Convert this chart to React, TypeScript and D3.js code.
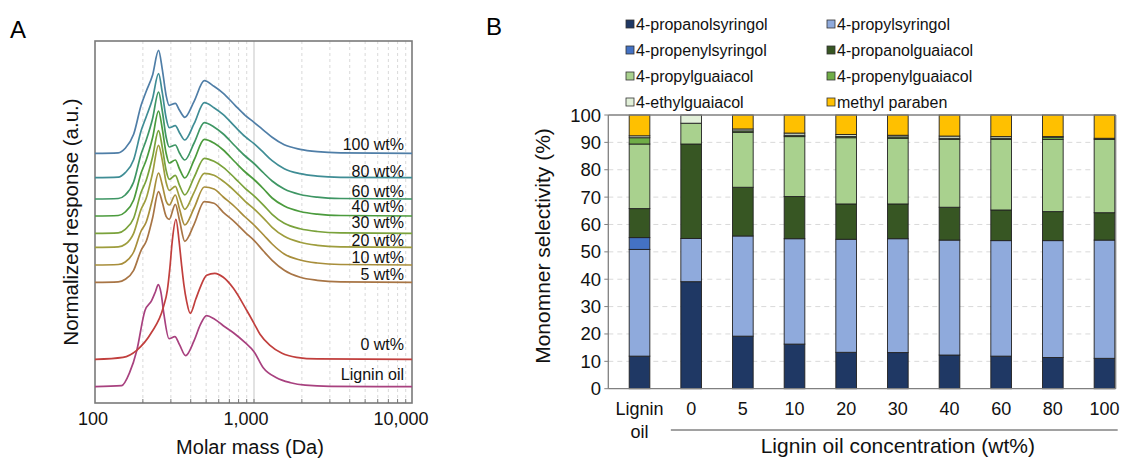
import React from 'react';
import * as d3 from 'd3';

const W = 1122;
const H = 459;
const FONT = '"Liberation Sans", Arial, Helvetica, sans-serif';

// ---------- Panel A: molar mass distributions ----------
const traceNames = ['Lignin oil', '0 wt%', '5 wt%', '10 wt%', '20 wt%', '30 wt%', '40 wt%', '60 wt%', '80 wt%', '100 wt%'];
const traceColors = ['#a8417f', '#c13f3d', '#a87545', '#a88e3b', '#9e9d3d', '#7aa23b', '#4b9b3d', '#3e9664', '#3f8d95', '#4f7ea7'];
// vertical offset of each trace (a.u., stacked display)
const traceOffsets = [16.3, 43.7, 120.7, 138, 155.7, 169.7, 187, 204, 225.3, 249.7];
const labelLift = [7, 9, 2.5, 2, 1.5, 5, 4.5, 2.5, 0.5, 3.5];

const ligninMass = [100, 147, 165, 183, 206, 227, 240, 250, 260, 271, 292, 318, 340, 372, 420, 460, 503, 560, 641, 742, 880, 1000, 1143, 1385, 1700, 2100, 3000, 10000];
const ligninResp = [0, 1, 14, 36, 76, 86, 95, 102, 94, 73, 48, 50, 42, 31, 46, 62, 71, 68, 61, 54, 44, 35, 19, 9, 4, 1.5, 0.3, 0];

const wt0Mass = [100, 150, 183, 227, 269, 285, 296, 306, 323, 338, 350, 362, 377, 397, 430, 459, 504, 567, 641, 742, 899, 1000, 1091, 1261, 1500, 1850, 2500, 10000];
const wt0Resp = [0, 2, 9, 27, 52, 69, 92, 118, 140, 118, 95, 75, 58, 46, 60, 72, 84, 86, 82, 71, 49, 36, 25, 14, 6, 2, 0.4, 0];

const blendMass = [100, 140, 155, 175, 195, 210, 230, 251, 265, 280, 293, 320, 340, 367, 420, 487, 560, 641, 760, 880, 1000, 1150, 1300, 1550, 1950, 2500, 3500, 10000];
const wt5 = [0, 0.5, 3, 12, 32, 41, 64, 90.6, 80, 66, 63, 78, 62, 41, 58, 80.6, 79, 70, 60, 50, 42, 31, 22, 12, 5, 2, 0.5, 0];
const wt10 = [0, 0.5, 3, 13, 34, 43, 66, 92, 80, 64, 60, 70, 56, 40, 57, 78, 76, 68, 58, 48, 40, 30, 21, 11, 5, 2, 0.5, 0];
const wt20 = [0, 0.5, 3, 14, 38, 49, 74, 102, 87, 65, 57, 61, 50, 38, 55, 74, 72, 66, 56, 46, 38.5, 29, 20, 11, 5, 2, 0.5, 0];
const wt30 = [0, 0.5, 4, 15, 41, 53, 76, 102.6, 86, 63, 54, 58, 48, 38.5, 56, 75, 72, 66, 55, 45, 37.5, 28, 19, 10, 4.5, 1.8, 0.5, 0];
const wt40 = [0, 0.5, 4, 16, 43, 56, 78, 105, 87, 63, 53, 56, 47, 38, 56, 76.7, 73, 66, 54, 44, 36.5, 27, 18, 10, 4.5, 1.8, 0.5, 0];
const wt60 = [0, 0.5, 4, 17, 45, 59, 80, 107, 88, 62, 52, 54, 46, 39, 56, 76.3, 72, 65, 53, 43, 35.5, 26, 18, 10, 4.5, 1.8, 0.5, 0];
const wt80 = [0, 0.5, 5, 18, 47, 61, 79, 104, 85, 60, 50, 52, 45, 37.7, 54, 75, 70, 63, 51, 41, 34, 25, 17, 9, 4, 1.6, 0.4, 0];
const wt100 = [0, 0.5, 5, 19, 48, 62, 78, 103, 84, 58, 48, 50, 43, 36, 52, 72.6, 67, 60, 48, 38, 31, 23, 16, 8.5, 4, 1.6, 0.4, 0];

const massTicks = [100, 1000, 10000];
const massTickLabels = ['100', '1,000', '10,000'];
const massTickShift = [-2, -8, -12];
const minorMass = [200, 300, 400, 500, 600, 700, 800, 900, 2000, 3000, 4000, 5000, 6000, 7000, 8000, 9000];

// ---------- Panel B: monomer selectivity ----------
const categories = ['Lignin oil', '0', '5', '10', '20', '30', '40', '60', '80', '100'];
const seriesNames = ['4-propanolsyringol', '4-propylsyringol', '4-propenylsyringol', '4-propanolguaiacol', '4-propylguaiacol', '4-propenylguaiacol', '4-ethylguaiacol', 'methyl paraben'];
const seriesColors = ['#1f3864', '#8faadc', '#4472c4', '#375623', '#a9d18e', '#70ad47', '#e2f0d9', '#ffc000'];
const propanolsyringol = [11.9, 39.1, 19.2, 16.3, 13.3, 13.2, 12.3, 11.9, 11.4, 11.1];
const propylsyringol = [39.0, 15.8, 36.6, 38.5, 41.3, 41.6, 42.0, 42.2, 42.7, 43.2];
const propenylsyringol = [4.3, 0, 0, 0, 0, 0, 0, 0, 0, 0];
const propanolguaiacol = [10.6, 34.5, 17.8, 15.4, 12.9, 12.7, 12.0, 11.2, 10.6, 10.0];
const propylguaiacol = [23.6, 7.6, 20.1, 21.9, 24.2, 24.0, 24.8, 25.8, 26.4, 26.8];
const propenylguaiacol = [2.3, 0, 0.5, 0.5, 0.5, 0.5, 0.4, 0.4, 0.8, 0.4];
const ethylguaiacol = [0.7, 3.0, 0.7, 0.8, 0.7, 0.6, 0.8, 0.6, 0.2, 0];
const methylParaben = [7.6, 0, 5.1, 6.6, 7.1, 7.4, 7.7, 7.9, 7.9, 8.5];
const selTicks = [0, 10, 20, 30, 40, 50, 60, 70, 80, 90, 100];

const App = () => {
  // scales A
  const xA = d3.scaleLog().domain([100, 10000]).range([95, 413]);
  const yA = d3.scaleLinear().domain([0, 362]).range([403, 41]);
  const plotA = { x0: 95, y0: 41, x1: 412, y1: 403 };

  const traces: [number, number][][] = [
    ligninMass.map((m, i) => [m, ligninResp[i]]),
    wt0Mass.map((m, i) => [m, wt0Resp[i]]),
    ...[wt5, wt10, wt20, wt30, wt40, wt60, wt80, wt100].map(arr => blendMass.map((m, i) => [m, arr[i]] as [number, number])),
  ];

  // scales B
  const yB = d3.scaleLinear().domain([0, 100]).range([388.7, 115]);
  const xB = d3.scaleBand().domain(categories).range([608, 1136]).paddingInner(0.6).paddingOuter(0.41);
  const frameB = { x0: 608.3, x1: 1115.7 };

  const seriesValues = [propanolsyringol, propylsyringol, propenylsyringol, propanolguaiacol, propylguaiacol, propenylguaiacol, ethylguaiacol, methylParaben];
  const rows = categories.map((c, i) => {
    const r: any = { cat: c };
    seriesNames.forEach((s, j) => { r[s] = seriesValues[j][i]; });
    return r;
  });
  const stacked = d3.stack().keys(seriesNames)(rows);

  return (
    <svg width={W} height={H} style={{ position: 'absolute', left: 0, top: 0, background: '#fff' }} fontFamily={FONT}>
      <defs>
        <clipPath id="clipA"><rect x={plotA.x0} y={plotA.y0} width={plotA.x1 - plotA.x0} height={plotA.y1 - plotA.y0} /></clipPath>
      </defs>

      {/* ---------------- Panel A ---------------- */}
      <text x={10} y={38} fontSize={24}>A</text>
      {minorMass.map(m => (
        <line key={m} x1={xA(m)} x2={xA(m)} y1={plotA.y0} y2={plotA.y1} stroke="#d9d9d9" strokeWidth={1} strokeDasharray="3,3" />
      ))}
      <line x1={xA(1000)} x2={xA(1000)} y1={plotA.y0} y2={plotA.y1} stroke="#cfcfcf" strokeWidth={1.2} />
      {/* frame of panel A */}
      <rect x={plotA.x0} y={plotA.y0} width={plotA.x1 - plotA.x0} height={plotA.y1 - plotA.y0} fill="none" stroke="#7a7a7a" strokeWidth={1.6} />
      {[...minorMass, 1000].map(m => (
        <line key={'t' + m} x1={xA(m)} x2={xA(m)} y1={plotA.y1} y2={plotA.y1 - 4} stroke="#777" strokeWidth={1} />
      ))}
      <g clipPath="url(#clipA)">
        {traces.map((pts, i) => {
          const line = d3.line<[number, number]>()
            .x(d => xA(d[0]))
            .y(d => yA(d[1] + traceOffsets[i]))
            .curve(d3.curveMonotoneX);
          return <path key={i} d={line(pts) || ''} fill="none" stroke={traceColors[i]} strokeWidth={1.7} />;
        })}
      </g>
      {traceNames.map((n, i) => (
        <text key={n} x={404} y={yA(traceOffsets[i] + labelLift[i])} fontSize={16} textAnchor="end" fill="#111">{n}</text>
      ))}
      {massTicks.map((m, i) => (
        <text key={m} x={xA(m) + massTickShift[i]} y={424.5} fontSize={18} textAnchor="middle" fill="#111">{massTickLabels[i]}</text>
      ))}
      <text x={250} y={454} fontSize={20} textAnchor="middle" fill="#111">Molar mass (Da)</text>
      <text transform={`translate(78,222) rotate(-90)`} fontSize={20.5} textAnchor="middle" fill="#111">Normalized response (a.u.)</text>

      {/* ---------------- Panel B ---------------- */}
      <text x={486} y={35} fontSize={24}>B</text>
      {selTicks.filter(t => t > 0 && t < 100).map(t => (
        <line key={t} x1={frameB.x0} x2={frameB.x1} y1={yB(t)} y2={yB(t)} stroke="#d9d9d9" strokeWidth={1} strokeDasharray="5,4" />
      ))}
      {stacked.map((s, j) => (
        <g key={s.key} fill={seriesColors[j]}>
          {s.map((d, i) => (
            d[1] - d[0] > 0 ? (
              <rect key={i} x={xB(categories[i])} width={xB.bandwidth()} y={yB(d[1])} height={yB(d[0]) - yB(d[1])}
                stroke="#222" strokeWidth={0.9} />
            ) : null
          ))}
        </g>
      ))}
      <line x1={frameB.x0} x2={frameB.x1} y1={yB(100)} y2={yB(100)} stroke="#808080" strokeWidth={1.3} />
      <line x1={frameB.x1} x2={frameB.x1} y1={yB(100)} y2={yB(0)} stroke="#808080" strokeWidth={1.3} />
      <line x1={frameB.x0} x2={frameB.x0} y1={yB(100)} y2={yB(0)} stroke="#808080" strokeWidth={1.3} />
      <line x1={frameB.x0} x2={frameB.x1} y1={yB(0)} y2={yB(0)} stroke="#808080" strokeWidth={1.3} />
      {selTicks.map(t => (
        <g key={t}>
          <line x1={frameB.x0 - 4} x2={frameB.x0} y1={yB(t)} y2={yB(t)} stroke="#808080" strokeWidth={1} />
          <text x={601} y={yB(t) + 6.5} fontSize={18.5} textAnchor="end" fill="#111">{t}</text>
        </g>
      ))}
      {categories.map((c, i) => {
        const cx = (xB(c) as number) + xB.bandwidth() / 2;
        return i === 0 ? (
          <text key={c} x={cx} fontSize={18} textAnchor="middle" fill="#111">
            <tspan x={cx} y={415}>Lignin</tspan>
            <tspan x={cx} y={438}>oil</tspan>
          </text>
        ) : (
          <text key={c} x={cx} y={415} fontSize={18} textAnchor="middle" fill="#111">{c}</text>
        );
      })}
      <line x1={(xB('0') as number) - 10} x2={frameB.x1 + 2} y1={430} y2={430} stroke="#444" strokeWidth={1} />
      <text x={((xB('0') as number) + (xB('100') as number) + xB.bandwidth()) / 2} y={453} fontSize={21} textAnchor="middle" fill="#111">
        Lignin oil concentration (wt%)
      </text>
      <text transform={`translate(550,246) rotate(-90)`} fontSize={21} textAnchor="middle" fill="#111">Monomner selectivity (%)</text>

      {/* legend */}
      {seriesNames.map((s, j) => {
        const col = j % 2;
        const row = Math.floor(j / 2);
        const sx = col === 0 ? 626 : 827;
        const by = 30 + row * 26;
        return (
          <g key={s}>
            <rect x={sx} y={by - 10} width={8} height={8} fill={seriesColors[j]} stroke="#333" strokeWidth={0.8} />
            <text x={sx + 10} y={by} fontSize={16} fill="#111">{s}</text>
          </g>
        );
      })}
    </svg>
  );
};

export default App;
